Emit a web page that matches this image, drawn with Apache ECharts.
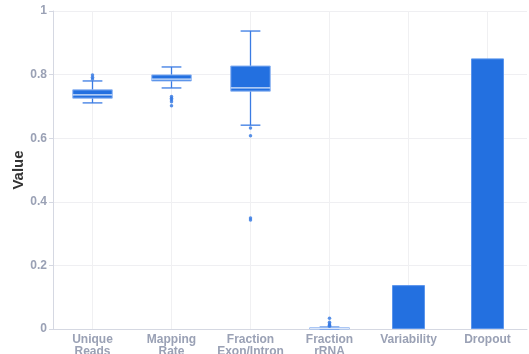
<!DOCTYPE html>
<html>
<head>
<meta charset="utf-8">
<script src="https://cdn.jsdelivr.net/npm/echarts@6/dist/echarts.min.js"></script>
<style>
  html, body { margin: 0; padding: 0; background: #fff; }
  #chart { width: 529px; height: 354px; }
</style>
</head>
<body>
<div id="chart"></div>
<script>
// QC metrics: box summaries for per-cell metrics, bars for global metrics
const categories = ['Unique\nReads', 'Mapping\nRate', 'Fraction\nExon/Intron', 'Fraction\nrRNA', 'Variability', 'Dropout'];

// box summaries (category index, lower whisker, Q1, median, Q3, upper whisker)
const boxCats   = [0, 1, 2, 3];
const boxLower  = [0.711, 0.758, 0.641, 0.000];
const boxQ1     = [0.726, 0.780, 0.748, 0.000];
const boxMedian = [0.736, 0.786, 0.758, 0.002];
const boxQ3     = [0.752, 0.799, 0.827, 0.004];
const boxUpper  = [0.780, 0.824, 0.937, 0.006];

// outlying samples
const outlierCats = [0, 0, 0, 1, 1, 1, 1, 1, 2, 2, 2, 2, 3, 3, 3, 3, 3];
const outlierVals = [0.786, 0.792, 0.799, 0.731, 0.726, 0.721, 0.715, 0.702, 0.632, 0.608, 0.349, 0.343, 0.034, 0.021, 0.016, 0.012, 0.009];

// single-value metrics
const barVals = [null, null, null, null, 0.138, 0.851];

const yTicks = [0, 0.2, 0.4, 0.6, 0.8, 1];

const BLUE = '#2370e0';
const BOX_EDGE = '#8fb5f2';
const WHISKER = '#3a7be3';
const MEDIAN = '#dbe7fb';

const boxData = boxCats.map((c, i) => [c, boxLower[i], boxQ1[i], boxMedian[i], boxQ3[i], boxUpper[i]]);
const outlierData = outlierCats.map((c, i) => [c, outlierVals[i]]);

function renderBox(params, api) {
  const c = api.value(0);
  const band = api.size([1, 0])[0];
  const boxW = band * 0.5;
  const capW = band * 0.25;
  const pLo = api.coord([c, api.value(1)]);
  const pQ1 = api.coord([c, api.value(2)]);
  const pMed = api.coord([c, api.value(3)]);
  const pQ3 = api.coord([c, api.value(4)]);
  const pHi = api.coord([c, api.value(5)]);
  const x = pQ1[0];
  const wStyle = { stroke: WHISKER, lineWidth: 1.3 };
  return {
    type: 'group',
    children: [
      { type: 'line', shape: { x1: x, y1: pHi[1], x2: x, y2: pQ3[1] }, style: wStyle },
      { type: 'line', shape: { x1: x, y1: pQ1[1], x2: x, y2: pLo[1] }, style: wStyle },
      { type: 'line', shape: { x1: x - capW / 2, y1: pHi[1], x2: x + capW / 2, y2: pHi[1] }, style: wStyle },
      { type: 'line', shape: { x1: x - capW / 2, y1: pLo[1], x2: x + capW / 2, y2: pLo[1] }, style: wStyle },
      {
        type: 'rect',
        shape: { x: x - boxW / 2, y: pQ3[1], width: boxW, height: Math.max(pQ1[1] - pQ3[1], 1) },
        style: { fill: BLUE, stroke: BOX_EDGE, lineWidth: 1 }
      },
      { type: 'line', shape: { x1: x - boxW / 2, y1: pMed[1], x2: x + boxW / 2, y2: pMed[1] }, style: { stroke: MEDIAN, lineWidth: 1.3 } }
    ]
  };
}

const chart = echarts.init(document.getElementById('chart'), null, { renderer: 'canvas' });
chart.setOption({
  animation: false,
  backgroundColor: '#ffffff',
  grid: { left: 53, right: 2, top: 11, bottom: 25, containLabel: false, outerBoundsMode: 'none' },
  xAxis: {
    type: 'category',
    data: categories,
    boundaryGap: true,
    axisLine: { lineStyle: { color: '#d5d8e2' } },
    axisTick: { show: false },
    axisLabel: {
      color: '#9aa1b5',
      fontWeight: 'bold',
      fontSize: 12,
      fontFamily: 'Liberation Sans, Arial, sans-serif',
      margin: 5,
      lineHeight: 12,
      interval: 0
    },
    splitLine: { show: true, alignWithLabel: true, lineStyle: { color: '#f0f0f2' } }
  },
  yAxis: {
    type: 'value',
    min: 0,
    max: 1,
    interval: 0.2,
    name: 'Value',
    nameLocation: 'middle',
    nameGap: 27,
    nameMoveOverlap: false,
    nameTextStyle: { color: '#333', fontWeight: 'bold', fontSize: 15, fontFamily: 'Liberation Sans, Arial, sans-serif' },
    axisLine: { show: true, lineStyle: { color: '#d5d8e2' } },
    axisTick: { show: true, length: 4, lineStyle: { color: '#d5d8e2' } },
    axisLabel: {
      color: '#9aa1b5',
      fontWeight: 'bold',
      fontSize: 12,
      fontFamily: 'Liberation Sans, Arial, sans-serif',
      margin: 6,
      formatter: v => (yTicks.includes(Math.round(v * 10) / 10) ? String(Math.round(v * 10) / 10) : '')
    },
    splitLine: { lineStyle: { color: '#efeff2' } }
  },
  series: [
    {
      type: 'bar',
      data: barVals,
      barWidth: 33,
      itemStyle: { color: BLUE, borderColor: '#5b95ec', borderWidth: 1 }
    },
    {
      type: 'custom',
      renderItem: renderBox,
      data: boxData,
      encode: { x: 0, y: [1, 2, 3, 4, 5] },
      z: 3
    },
    {
      type: 'scatter',
      data: outlierData,
      symbolSize: 3.5,
      itemStyle: { color: '#2f75e2' },
      z: 4
    }
  ]
});
</script>
</body>
</html>
